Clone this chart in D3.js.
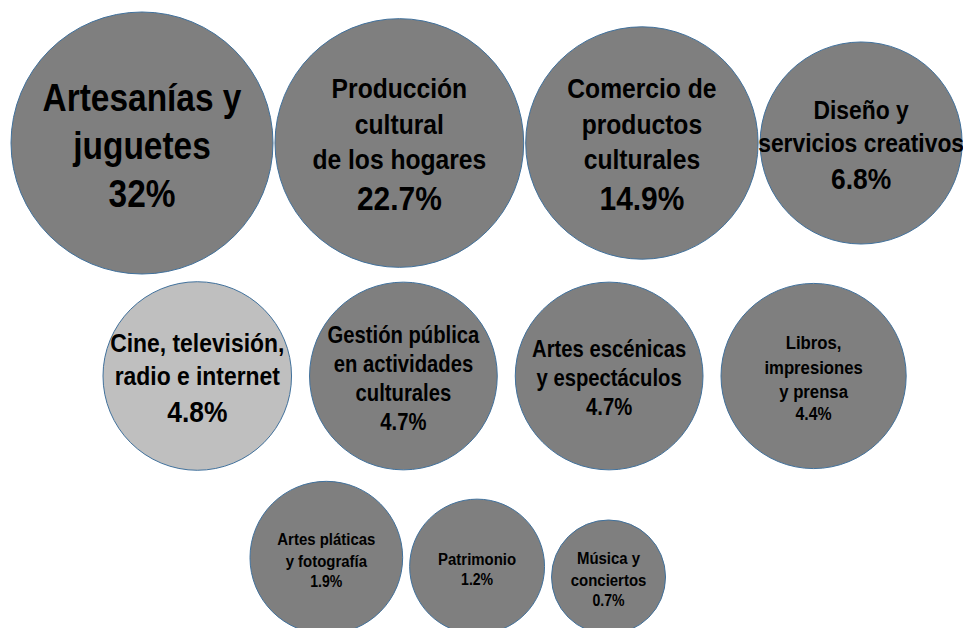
<!DOCTYPE html>
<html>
<head>
<meta charset="utf-8">
<script src="https://d3js.org/d3.v7.min.js"></script>
<style>
  body { margin: 0; background: #fff; }
  svg text { font-family: "Liberation Sans Narrow", "Arial Narrow", "Liberation Sans", Arial, sans-serif; font-weight: bold; fill: #000; }
</style>
</head>
<body>
<div class="vis"></div>
<script>
  // data
  var categories = [
    "Artesanías y\njuguetes",
    "Producción\ncultural\nde los hogares",
    "Comercio de\nproductos\nculturales",
    "Diseño y\nservicios creativos",
    "Cine, televisión,\nradio e internet",
    "Gestión pública\nen actividades\nculturales",
    "Artes escénicas\ny espectáculos",
    "Libros,\nimpresiones\ny prensa",
    "Artes pláticas\ny fotografía",
    "Patrimonio",
    "Música y\nconciertos"
  ];
  var values = [32, 22.7, 14.9, 6.8, 4.8, 4.7, 4.7, 4.4, 1.9, 1.2, 0.7];
  var valueLabels = ["32%", "22.7%", "14.9%", "6.8%", "4.8%", "4.7%", "4.7%", "4.4%", "1.9%", "1.2%", "0.7%"];
  var rowSizes = [4, 4, 3];
  var highlighted = "Cine, televisión,\nradio e internet";

  var width = 963, height = 628;
  var narrow = 0.88; // no narrow font installed, squeeze the text instead

  var svg = d3.select('.vis').append('svg')
    .attr('width', width)
    .attr('height', height);

  // radius from value
  var r = d3.scaleLog().domain([0.7, 32]).range([57, 131]);

  // text sizes from value
  var labelSize = d3.scaleThreshold().domain([2, 4.5, 4.75, 7, 25]).range([17, 19, 23, 26, 28, 38]);
  var valueSize = d3.scaleThreshold().domain([2, 4.5, 4.75, 7, 25]).range([16, 18, 23, 30, 34, 38]);

  var fill = d3.scaleOrdinal().domain([highlighted]).range(['#bfbfbf']).unknown('#7f7f7f');

  // row layout: start x, gap, y reference, align mode
  var rowLayout = [
    { x0: 11, gap: 2, y: 143, align: 'center' },
    { x0: 103, gap: 18, y: 376, align: 'center' },
    { x0: 250, gap: 7, y: 634, align: 'bottom' }
  ];

  var nodes = [];
  var idx = 0;
  rowSizes.forEach(function (n, ri) {
    var L = rowLayout[ri];
    var x = L.x0;
    for (var k = 0; k < n; k++, idx++) {
      var rad = r(values[idx]);
      var cy = L.align === 'bottom' ? L.y - rad : L.y;
      nodes.push({ cat: categories[idx], value: values[idx], label: valueLabels[idx], cx: x + rad, cy: cy, r: rad });
      x += 2 * rad + L.gap;
    }
  });

  var g = svg.selectAll('g.bubble')
    .data(nodes)
    .enter()
    .append('g')
    .attr('class', 'bubble')
    .attr('transform', function (d) { return 'translate(' + d.cx + ',' + d.cy + ')'; });

  g.append('circle')
    .attr('r', function (d) { return d.r; })
    .attr('fill', function (d) { return fill(d.cat); })
    .attr('stroke', '#41719c')
    .attr('stroke-width', 1);

  g.each(function (d) {
    var lines = d.cat.split('\n');
    var ls = labelSize(d.value), vs = valueSize(d.value);
    var lh = ls * 1.27, vh = vs * 1.25;
    var total = lines.length * lh + vh;
    var y = -total / 2 + 2;
    var t = d3.select(this).append('text')
      .attr('text-anchor', 'middle')
      .attr('transform', 'scale(' + narrow + ',1)');
    lines.forEach(function (line) {
      y += lh;
      t.append('tspan').attr('x', 0).attr('y', y - lh * 0.22).style('font-size', ls + 'px').text(line);
    });
    y += vh;
    t.append('tspan').attr('x', 0).attr('y', y - vh * 0.22).style('font-size', vs + 'px').text(d.label);
  });
</script>
</body>
</html>
